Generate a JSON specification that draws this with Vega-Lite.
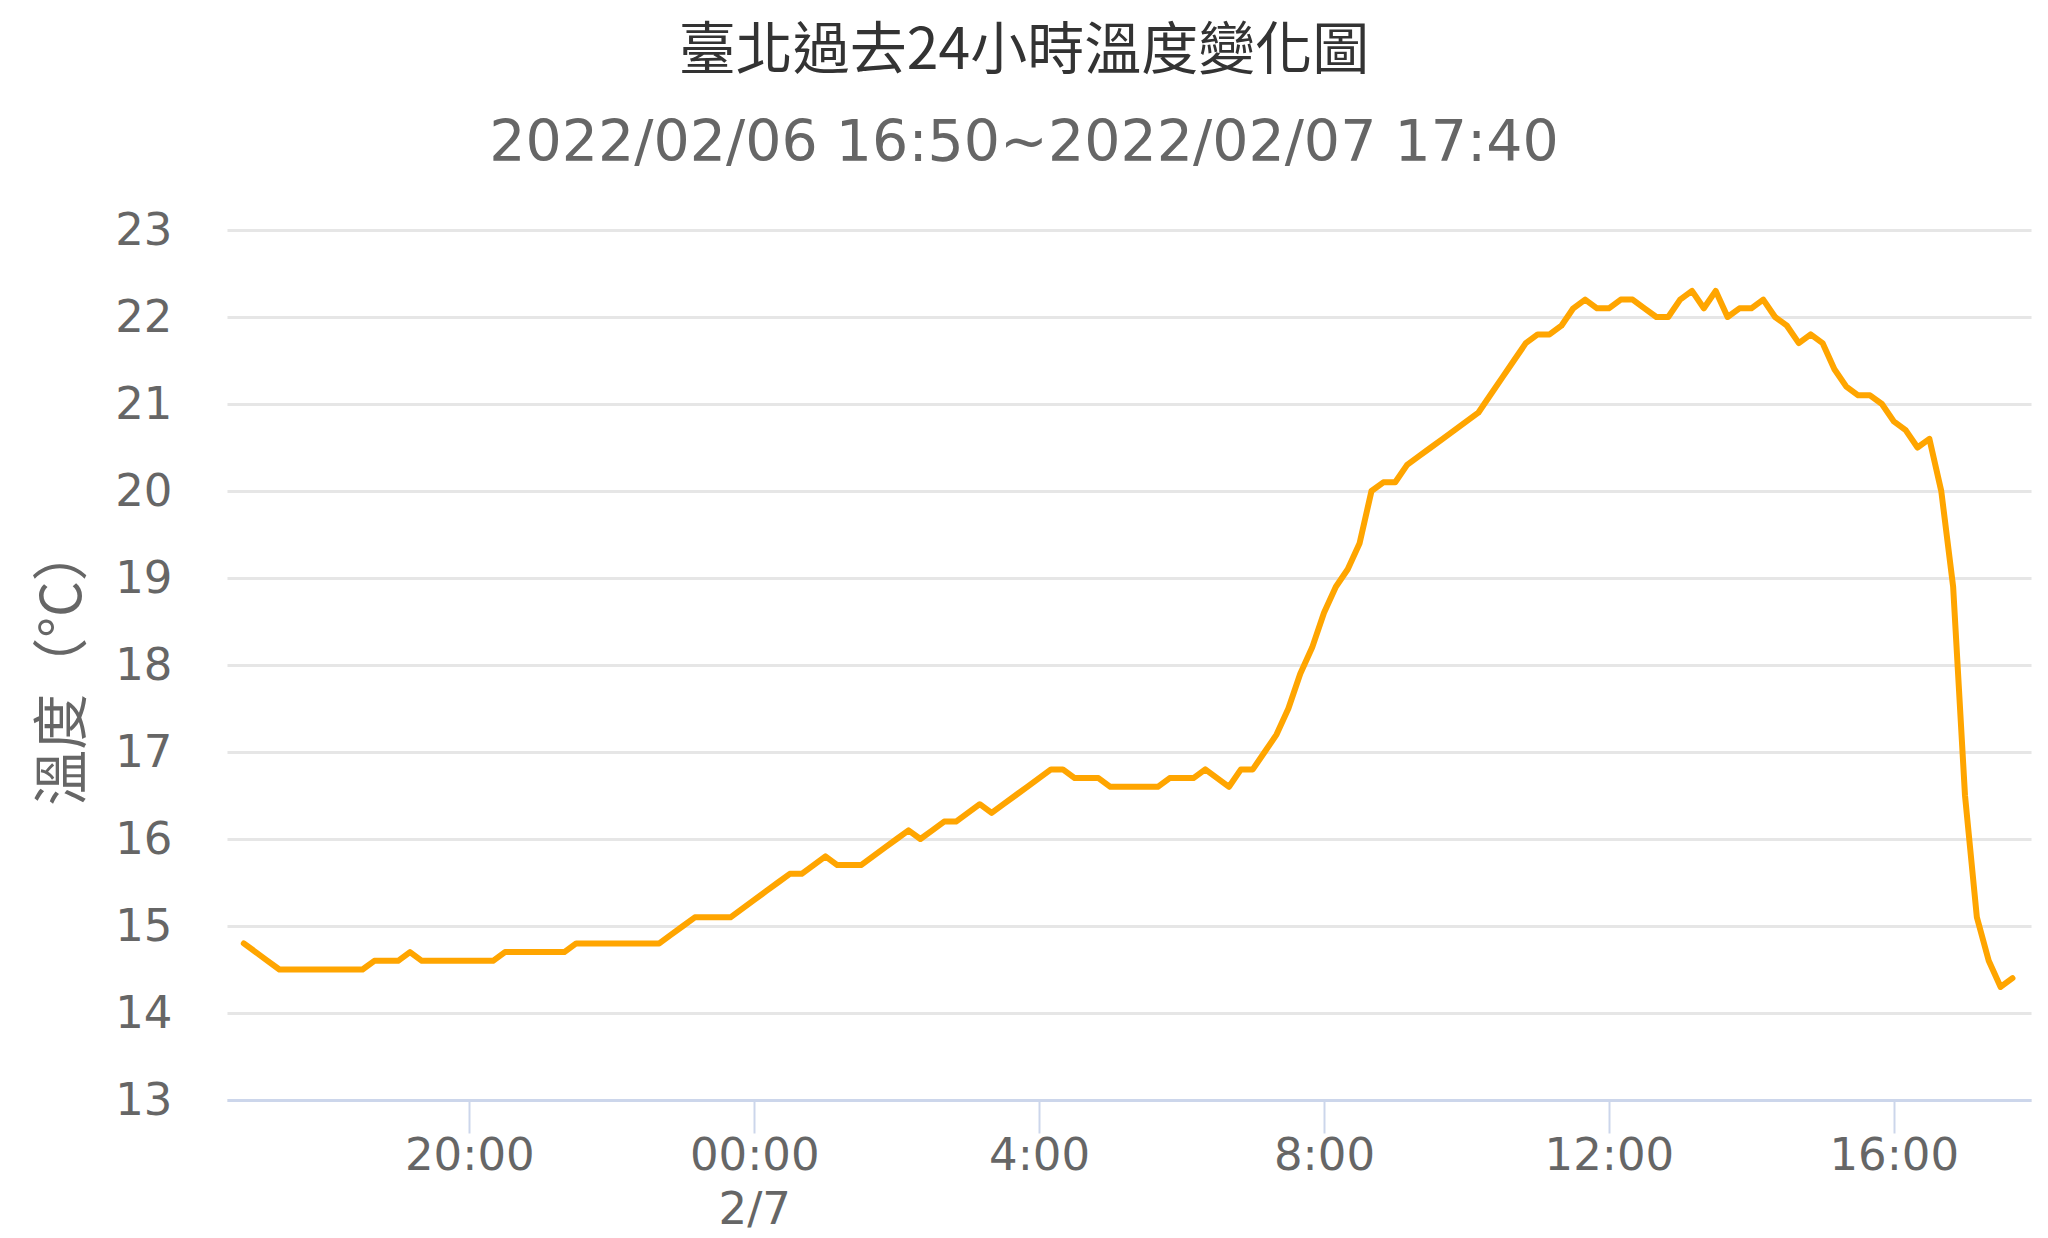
{
  "$schema": "https://vega.github.io/schema/vega-lite/v6.json",
  "width": 1804,
  "height": 870,
  "autosize": {"type": "none"},
  "padding": {"left": 227, "top": 230, "right": 17, "bottom": 138},
  "background": "white",
  "config": {"view": {"stroke": null}},
  "title": {
    "text": "臺北過去24小時溫度變化圖",
    "subtitle": "2022/02/06 16:50~2022/02/07 17:40",
    "anchor": "middle",
    "dx": -105,
    "offset": 35,
    "font": "Noto Sans CJK TC",
    "fontSize": 57,
    "fontWeight": "normal",
    "color": "#333333",
    "subtitleFont": "DejaVu Sans",
    "subtitleFontSize": 57,
    "subtitleColor": "#666666",
    "subtitlePadding": 35
  },
  "data": {
    "values": [
      {"t": "2022-02-06T16:50", "v": 14.8},
      {"t": "2022-02-06T17:00", "v": 14.7},
      {"t": "2022-02-06T17:10", "v": 14.6},
      {"t": "2022-02-06T17:20", "v": 14.5},
      {"t": "2022-02-06T17:30", "v": 14.5},
      {"t": "2022-02-06T17:40", "v": 14.5},
      {"t": "2022-02-06T17:50", "v": 14.5},
      {"t": "2022-02-06T18:00", "v": 14.5},
      {"t": "2022-02-06T18:10", "v": 14.5},
      {"t": "2022-02-06T18:20", "v": 14.5},
      {"t": "2022-02-06T18:30", "v": 14.5},
      {"t": "2022-02-06T18:40", "v": 14.6},
      {"t": "2022-02-06T18:50", "v": 14.6},
      {"t": "2022-02-06T19:00", "v": 14.6},
      {"t": "2022-02-06T19:10", "v": 14.7},
      {"t": "2022-02-06T19:20", "v": 14.6},
      {"t": "2022-02-06T19:30", "v": 14.6},
      {"t": "2022-02-06T19:40", "v": 14.6},
      {"t": "2022-02-06T19:50", "v": 14.6},
      {"t": "2022-02-06T20:00", "v": 14.6},
      {"t": "2022-02-06T20:10", "v": 14.6},
      {"t": "2022-02-06T20:20", "v": 14.6},
      {"t": "2022-02-06T20:30", "v": 14.7},
      {"t": "2022-02-06T20:40", "v": 14.7},
      {"t": "2022-02-06T20:50", "v": 14.7},
      {"t": "2022-02-06T21:00", "v": 14.7},
      {"t": "2022-02-06T21:10", "v": 14.7},
      {"t": "2022-02-06T21:20", "v": 14.7},
      {"t": "2022-02-06T21:30", "v": 14.8},
      {"t": "2022-02-06T21:40", "v": 14.8},
      {"t": "2022-02-06T21:50", "v": 14.8},
      {"t": "2022-02-06T22:00", "v": 14.8},
      {"t": "2022-02-06T22:10", "v": 14.8},
      {"t": "2022-02-06T22:20", "v": 14.8},
      {"t": "2022-02-06T22:30", "v": 14.8},
      {"t": "2022-02-06T22:40", "v": 14.8},
      {"t": "2022-02-06T22:50", "v": 14.9},
      {"t": "2022-02-06T23:00", "v": 15.0},
      {"t": "2022-02-06T23:10", "v": 15.1},
      {"t": "2022-02-06T23:20", "v": 15.1},
      {"t": "2022-02-06T23:30", "v": 15.1},
      {"t": "2022-02-06T23:40", "v": 15.1},
      {"t": "2022-02-06T23:50", "v": 15.2},
      {"t": "2022-02-07T00:00", "v": 15.3},
      {"t": "2022-02-07T00:10", "v": 15.4},
      {"t": "2022-02-07T00:20", "v": 15.5},
      {"t": "2022-02-07T00:30", "v": 15.6},
      {"t": "2022-02-07T00:40", "v": 15.6},
      {"t": "2022-02-07T00:50", "v": 15.7},
      {"t": "2022-02-07T01:00", "v": 15.8},
      {"t": "2022-02-07T01:10", "v": 15.7},
      {"t": "2022-02-07T01:20", "v": 15.7},
      {"t": "2022-02-07T01:30", "v": 15.7},
      {"t": "2022-02-07T01:40", "v": 15.8},
      {"t": "2022-02-07T01:50", "v": 15.9},
      {"t": "2022-02-07T02:00", "v": 16.0},
      {"t": "2022-02-07T02:10", "v": 16.1},
      {"t": "2022-02-07T02:20", "v": 16.0},
      {"t": "2022-02-07T02:30", "v": 16.1},
      {"t": "2022-02-07T02:40", "v": 16.2},
      {"t": "2022-02-07T02:50", "v": 16.2},
      {"t": "2022-02-07T03:00", "v": 16.3},
      {"t": "2022-02-07T03:10", "v": 16.4},
      {"t": "2022-02-07T03:20", "v": 16.3},
      {"t": "2022-02-07T03:30", "v": 16.4},
      {"t": "2022-02-07T03:40", "v": 16.5},
      {"t": "2022-02-07T03:50", "v": 16.6},
      {"t": "2022-02-07T04:00", "v": 16.7},
      {"t": "2022-02-07T04:10", "v": 16.8},
      {"t": "2022-02-07T04:20", "v": 16.8},
      {"t": "2022-02-07T04:30", "v": 16.7},
      {"t": "2022-02-07T04:40", "v": 16.7},
      {"t": "2022-02-07T04:50", "v": 16.7},
      {"t": "2022-02-07T05:00", "v": 16.6},
      {"t": "2022-02-07T05:10", "v": 16.6},
      {"t": "2022-02-07T05:20", "v": 16.6},
      {"t": "2022-02-07T05:30", "v": 16.6},
      {"t": "2022-02-07T05:40", "v": 16.6},
      {"t": "2022-02-07T05:50", "v": 16.7},
      {"t": "2022-02-07T06:00", "v": 16.7},
      {"t": "2022-02-07T06:10", "v": 16.7},
      {"t": "2022-02-07T06:20", "v": 16.8},
      {"t": "2022-02-07T06:30", "v": 16.7},
      {"t": "2022-02-07T06:40", "v": 16.6},
      {"t": "2022-02-07T06:50", "v": 16.8},
      {"t": "2022-02-07T07:00", "v": 16.8},
      {"t": "2022-02-07T07:10", "v": 17.0},
      {"t": "2022-02-07T07:20", "v": 17.2},
      {"t": "2022-02-07T07:30", "v": 17.5},
      {"t": "2022-02-07T07:40", "v": 17.9},
      {"t": "2022-02-07T07:50", "v": 18.2},
      {"t": "2022-02-07T08:00", "v": 18.6},
      {"t": "2022-02-07T08:10", "v": 18.9},
      {"t": "2022-02-07T08:20", "v": 19.1},
      {"t": "2022-02-07T08:30", "v": 19.4},
      {"t": "2022-02-07T08:40", "v": 20.0},
      {"t": "2022-02-07T08:50", "v": 20.1},
      {"t": "2022-02-07T09:00", "v": 20.1},
      {"t": "2022-02-07T09:10", "v": 20.3},
      {"t": "2022-02-07T09:20", "v": 20.4},
      {"t": "2022-02-07T09:30", "v": 20.5},
      {"t": "2022-02-07T09:40", "v": 20.6},
      {"t": "2022-02-07T09:50", "v": 20.7},
      {"t": "2022-02-07T10:00", "v": 20.8},
      {"t": "2022-02-07T10:10", "v": 20.9},
      {"t": "2022-02-07T10:20", "v": 21.1},
      {"t": "2022-02-07T10:30", "v": 21.3},
      {"t": "2022-02-07T10:40", "v": 21.5},
      {"t": "2022-02-07T10:50", "v": 21.7},
      {"t": "2022-02-07T11:00", "v": 21.8},
      {"t": "2022-02-07T11:10", "v": 21.8},
      {"t": "2022-02-07T11:20", "v": 21.9},
      {"t": "2022-02-07T11:30", "v": 22.1},
      {"t": "2022-02-07T11:40", "v": 22.2},
      {"t": "2022-02-07T11:50", "v": 22.1},
      {"t": "2022-02-07T12:00", "v": 22.1},
      {"t": "2022-02-07T12:10", "v": 22.2},
      {"t": "2022-02-07T12:20", "v": 22.2},
      {"t": "2022-02-07T12:30", "v": 22.1},
      {"t": "2022-02-07T12:40", "v": 22.0},
      {"t": "2022-02-07T12:50", "v": 22.0},
      {"t": "2022-02-07T13:00", "v": 22.2},
      {"t": "2022-02-07T13:10", "v": 22.3},
      {"t": "2022-02-07T13:20", "v": 22.1},
      {"t": "2022-02-07T13:30", "v": 22.3},
      {"t": "2022-02-07T13:40", "v": 22.0},
      {"t": "2022-02-07T13:50", "v": 22.1},
      {"t": "2022-02-07T14:00", "v": 22.1},
      {"t": "2022-02-07T14:10", "v": 22.2},
      {"t": "2022-02-07T14:20", "v": 22.0},
      {"t": "2022-02-07T14:30", "v": 21.9},
      {"t": "2022-02-07T14:40", "v": 21.7},
      {"t": "2022-02-07T14:50", "v": 21.8},
      {"t": "2022-02-07T15:00", "v": 21.7},
      {"t": "2022-02-07T15:10", "v": 21.4},
      {"t": "2022-02-07T15:20", "v": 21.2},
      {"t": "2022-02-07T15:30", "v": 21.1},
      {"t": "2022-02-07T15:40", "v": 21.1},
      {"t": "2022-02-07T15:50", "v": 21.0},
      {"t": "2022-02-07T16:00", "v": 20.8},
      {"t": "2022-02-07T16:10", "v": 20.7},
      {"t": "2022-02-07T16:20", "v": 20.5},
      {"t": "2022-02-07T16:30", "v": 20.6},
      {"t": "2022-02-07T16:40", "v": 20.0},
      {"t": "2022-02-07T16:50", "v": 18.9},
      {"t": "2022-02-07T17:00", "v": 16.5},
      {"t": "2022-02-07T17:10", "v": 15.1},
      {"t": "2022-02-07T17:20", "v": 14.6},
      {"t": "2022-02-07T17:30", "v": 14.3},
      {"t": "2022-02-07T17:40", "v": 14.4}
    ]
  },
  "mark": {
    "type": "line",
    "color": "#FFA500",
    "strokeWidth": 6,
    "strokeCap": "round",
    "strokeJoin": "round"
  },
  "encoding": {
    "x": {
      "field": "t",
      "type": "temporal",
      "scale": {
        "domain": [
          {"year": 2022, "month": 2, "date": 6, "hours": 16, "minutes": 35, "seconds": 51},
          {"year": 2022, "month": 2, "date": 7, "hours": 17, "minutes": 55, "seconds": 36}
        ]
      },
      "axis": {
        "title": null,
        "values": [
          {"year": 2022, "month": 2, "date": 6, "hours": 20},
          {"year": 2022, "month": 2, "date": 7, "hours": 0},
          {"year": 2022, "month": 2, "date": 7, "hours": 4},
          {"year": 2022, "month": 2, "date": 7, "hours": 8},
          {"year": 2022, "month": 2, "date": 7, "hours": 12},
          {"year": 2022, "month": 2, "date": 7, "hours": 16}
        ],
        "labelExpr": "hours(datum.value) == 0 ? ['00:00', '2/7'] : hours(datum.value) + ':00'",
        "labelFont": "DejaVu Sans",
        "labelFontSize": 45,
        "labelColor": "#666666",
        "labelPadding": 0,
        "labelLineHeight": 54,
        "labelFlush": false,
        "labelOverlap": false,
        "grid": false,
        "domainColor": "#ccd6eb",
        "domainWidth": 3,
        "tickColor": "#ccd6eb",
        "tickWidth": 2,
        "tickSize": 33,
        "zindex": 1
      }
    },
    "y": {
      "field": "v",
      "type": "quantitative",
      "scale": {"domain": [13, 23], "nice": false, "zero": false},
      "axis": {
        "title": "溫度（°C）",
        "titleFont": "Noto Sans CJK TC",
        "titleFontSize": 56,
        "titleFontWeight": "normal",
        "titleColor": "#666666",
        "titlePadding": 22,
        "values": [13, 14, 15, 16, 17, 18, 19, 20, 21, 22, 23],
        "labelFont": "DejaVu Sans",
        "labelFontSize": 45,
        "labelColor": "#666666",
        "labelPadding": 55,
        "ticks": false,
        "domain": false,
        "gridColor": "#e6e6e6",
        "gridWidth": 3
      }
    }
  }
}
